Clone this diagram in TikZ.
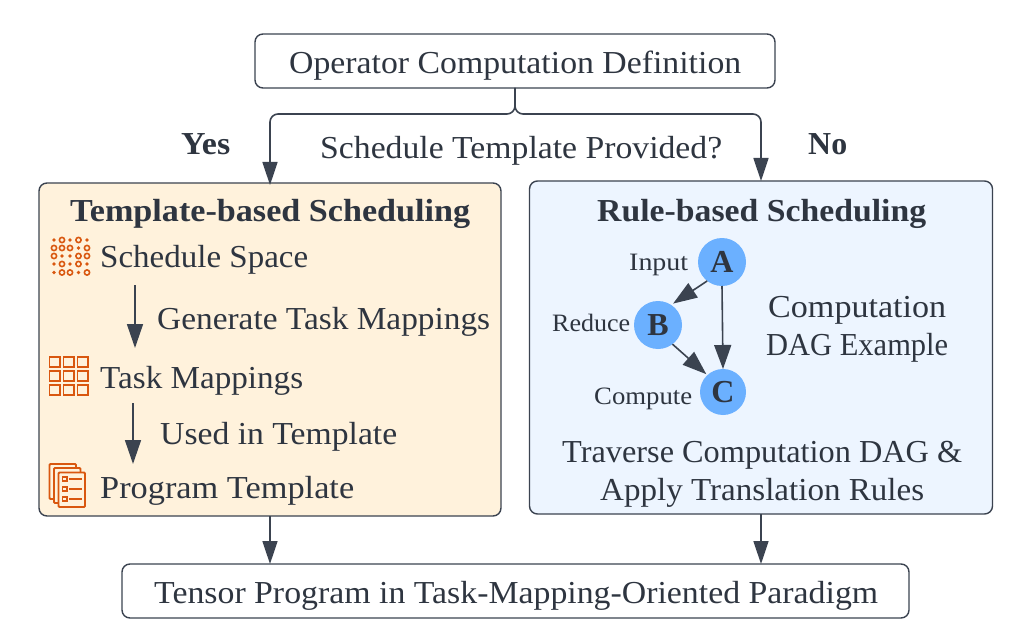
\documentclass[tikz,border=0pt]{standalone}
\usepackage{graphicx}
\usepackage{fontspec}
\setmainfont{Liberation Serif}
\usetikzlibrary{arrows.meta}
\definecolor{ink}{HTML}{2E3540}
\definecolor{edgec}{HTML}{3B4350}
\definecolor{warm}{HTML}{FFF2DC}
\definecolor{cool}{HTML}{EDF5FF}
\definecolor{dagblue}{HTML}{6BB0FF}
\definecolor{icon}{HTML}{D9570F}
\newcommand{\fitw}[2]{\resizebox{#1pt}{\height}{#2}}
\tikzset{
  lab/.style={anchor=base west,inner sep=0pt,text=ink,font=\fontsize{32}{38}\selectfont},
  blab/.style={lab,font=\fontsize{32}{38}\selectfont\bfseries},
  slab/.style={lab,font=\fontsize{25}{30}\selectfont},
  box/.style={draw=edgec,line width=1.4pt,rounded corners=8pt,inner sep=0pt,outer sep=0pt,anchor=north west},
  conn/.style={draw=edgec,line width=1.6pt,-{Triangle[length=23pt,width=15pt]}},
  dagconn/.style={conn,-{Triangle[length=24pt,width=17pt]}},
  dagnode/.style={circle,fill=dagblue,inner sep=0pt,outer sep=0pt,text=ink,font=\fontsize{32}{38}\selectfont\bfseries},
  ic/.style={draw=icon,line width=1.8pt},
  ring/.style={ic,line width=1.6pt},
  dotm/.style={fill=icon,draw=none}
}
\begin{document}
\begin{tikzpicture}[x=1pt,y=-1pt]
\useasboundingbox (0,0) rectangle (1024,636);
% boxes
\node[box,minimum width=520pt,minimum height=54pt] (top) at (255,34) {};
\node[box,fill=warm,minimum width=462pt,minimum height=333pt] (left) at (39,183) {};
\node[box,fill=cool,minimum width=463pt,minimum height=333pt] (right) at (529.5,181) {};
\node[box,minimum width=787pt,minimum height=54pt] (bot) at (122,564) {};
% connectors outer
\draw[conn,rounded corners=8pt] (top.south) |- (left.north |- 0,114) -- ([yshift=-2pt]left.north);
\draw[conn,rounded corners=8pt] (top.south) |- (right.north |- 0,114) -- (right.north);
\draw[conn] (left.south) -- (left.south |- bot.north);
\draw[conn] (right.south) -- (right.south |- bot.north);
% labels
\node[lab] (t1) at (289,74) {\fitw{452}{Operator Computation Definition}};
\node[lab] (t2) at (320,159) {\fitw{402}{Schedule Template Provided?}};
\node[blab] (yes) at (181,155) {\fitw{49}{Yes}};
\node[blab] (no) at (808,155) {\fitw{39}{No}};
\node[blab] (h1) at (70,222) {\fitw{400}{Template-based Scheduling}};
\node[blab] (h2) at (597,221.5) {\fitw{329}{Rule-based Scheduling}};
\node[lab] (s1) at (100,267) {\fitw{208}{Schedule Space}};
\node[lab] (s2) at (157,329.5) {\fitw{333}{Generate Task Mappings}};
\node[lab] (s3) at (100,388) {\fitw{203}{Task Mappings}};
\node[lab] (s4) at (160,444) {\fitw{237}{Used in Template}};
\node[lab] (s5) at (100,498) {\fitw{254}{Program Template}};
\node[lab] (c1) at (768,317) {\fitw{178}{Computation}};
\node[lab] (c2) at (766,355) {\fitw{182}{DAG Example}};
\node[lab] (r1) at (562,462.5) {\fitw{400}{Traverse Computation DAG \&}};
\node[lab] (r2) at (600,500.5) {\fitw{324}{Apply Translation Rules}};
\node[lab] (bt) at (154,603) {\fitw{724}{Tensor Program in Task-Mapping-Oriented Paradigm}};
\node[slab] (li) at (629,270) {\fitw{59}{Input}};
\node[slab] (lr) at (552,331) {\fitw{78}{Reduce}};
\node[slab] (lc) at (594,404) {\fitw{98}{Compute}};
% inner arrows
\coordinate (a1s) at (135,285);
\coordinate (a1e) at (135,348);
\coordinate (a2s) at (133,403);
\coordinate (a2e) at (133,464);
\draw[conn,-{Triangle[length=24pt,width=16pt]}] (a1s) -- (a1e);
\draw[conn,-{Triangle[length=24pt,width=16pt]}] (a2s) -- (a2e);
% DAG
\node[dagnode,minimum size=48pt] (A) at (722,262) {\raisebox{-2pt}{A}};
\node[dagnode,minimum size=48pt] (B) at (658,325) {\raisebox{-2pt}{B}};
\node[dagnode,minimum size=46pt] (C) at (723,392) {\raisebox{-2pt}{C}};
\draw[dagconn] (A.232) -- ([shift={(1,-2)}]B.54);
\draw[dagconn] (A.south) -- (C.north);
\draw[dagconn] (B.307) -- ([shift={(-1,-1)}]C.133);
% dot-grid icon
\foreach \x/\y/\k in {
 54/240/0,62/240/1,70/240/0,78.5/240/1,87/240/0,
 54/248/1,62/248/1,70/248/1,78.5/248/0,87/248/1,
 54/256/1,62/256/0,70/256/0,78.5/256/1,87/256/1,
 54/264/0,62/264/1,70/264/0,78.5/264/1,87/264/0,
 54/272.5/0,62/272.5/1,70/272.5/1,78.5/272.5/0,87/272.5/1}{
  \ifnum\k=1 \draw[ring] (\x,\y) circle (2.6pt);
  \else \fill[dotm] (\x,\y) circle (1.8pt); \fi
}
% grid icon
\foreach \x in {49.5,63.5,77.5}\foreach \y in {357,371,385}{
  \draw[ic] (\x,\y) rectangle ++(10.5,10);
}
% template icon
\draw[ic,fill=warm,rounded corners=1pt] (49.5,464) rectangle (76,499);
\draw[ic,fill=warm,rounded corners=1pt] (54,468) rectangle (80.5,503);
\draw[ic,fill=warm,rounded corners=1pt] (58.5,472.5) rectangle (85,507);
\foreach \y in {479,489,499}{
  \draw[ic,line width=1.5pt] (62.5,\y-2) rectangle ++(4.5,4.2);
  \draw[ic,line width=1.5pt] (69,\y) -- (81.5,\y);
}
\end{tikzpicture}
\end{document}
